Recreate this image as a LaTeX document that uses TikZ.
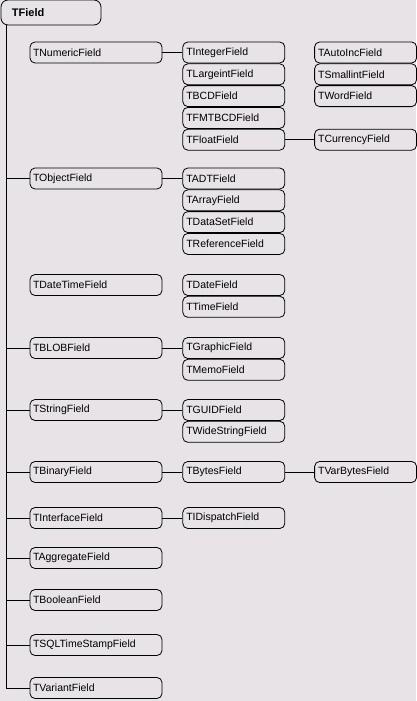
\documentclass[tikz,border=0pt]{standalone}
\usepackage{fontspec}
\setmainfont{Liberation Sans}
\usetikzlibrary{positioning}
\definecolor{formgray}{RGB}{231,227,231}
\tikzstyle{rootclass} = [rectangle, rounded corners=7pt, minimum width=100pt, minimum height=25pt, text width=78pt, inner xsep=11pt, inner ysep=0pt, align=left, draw=black, font=\fontsize{11}{13}\selectfont\bfseries]
\tikzstyle{fieldclass} = [rectangle, rounded corners=5pt, minimum width=132pt, minimum height=21pt, text width=126pt, inner xsep=3pt, inner ysep=0pt, align=left, draw=black, font=\fontsize{10.5}{12}\selectfont]
\tikzstyle{subclass} = [fieldclass, minimum width=102pt, text width=95pt, inner xsep=3.5pt]

\begin{document}
\begin{tikzpicture}[x=1pt, y=-1pt, node distance=0pt, line width=0.8pt]
 \fill[formgray] (0,0) rectangle (416,701);
 \useasboundingbox (0,0) rectangle (416,701);

 % root
 \node (tfield) [rootclass] at (51,12.5) {TField};
 \coordinate (trunk) at ([xshift=6pt]tfield.south west);

 % first level
 \node (numeric) [fieldclass] at (96,52.5) {TNumericField};
 \node (object) [fieldclass] at (96,178.5) {TObjectField};
 \node (datetime) [fieldclass] at (96,285) {TDateTimeField};
 \node (blob) [fieldclass] at (96,348) {TBLOBField};
 \node (string) [fieldclass] at (96,410) {TStringField};
 \node (binary) [fieldclass] at (96,472) {TBinaryField};
 \node (interface) [fieldclass] at (96,518) {TInterfaceField};
 \node (aggregate) [fieldclass] at (96,558) {TAggregateField};
 \node (boolean) [fieldclass] at (96,600) {TBooleanField};
 \node (sqlts) [fieldclass] at (96,645) {TSQLTimeStampField};
 \node (variant) [fieldclass] at (96,688) {TVariantField};

 % second level
 \node (integer) [subclass, right=20pt of numeric] {TIntegerField};
 \node (largeint) [subclass, below=of integer] {TLargeintField};
 \node (bcd) [subclass, below=of largeint] {TBCDField};
 \node (fmtbcd) [subclass, below=of bcd] {TFMTBCDField};
 \node (float) [subclass, below=of fmtbcd] {TFloatField};

 \node (adt) [subclass, right=20pt of object] {TADTField};
 \node (array) [subclass, below=of adt] {TArrayField};
 \node (dataset) [subclass, below=of array] {TDataSetField};
 \node (reference) [subclass, below=of dataset] {TReferenceField};

 \node (date) [subclass, right=20pt of datetime] {TDateField};
 \node (time) [subclass, below=of date] {TTimeField};

 \node (graphic) [subclass, right=20pt of blob] {TGraphicField};
 \node (memo) [subclass, below=of graphic] {TMemoField};

 \node (guid) [subclass, right=20pt of string] {TGUIDField};
 \node (widestring) [subclass, below=of guid] {TWideStringField};

 \node (bytes) [subclass, right=20pt of binary] {TBytesField};
 \node (idispatch) [subclass, right=20pt of interface] {TIDispatchField};

 % third level
 \node (autoinc) [subclass, right=29pt of integer] {TAutoIncField};
 \node (smallint) [subclass, below=of autoinc] {TSmallintField};
 \node (word) [subclass, below=of smallint] {TWordField};
 \node (currency) [subclass, right=29pt of float] {TCurrencyField};
 \node (varbytes) [subclass, right=29pt of bytes] {TVarBytesField};

 % connectors
 \draw (trunk) |- (variant.west);
 \foreach \n in {object,blob,string,binary,interface,aggregate,boolean,sqlts}
  \draw (\n.west) -- (\n.west -| trunk);
 \draw (numeric) -- (integer);
 \draw (object) -- (adt);
 \draw (blob) -- (graphic);
 \draw (string) -- (guid);
 \draw (binary) -- (bytes);
 \draw (interface) -- (idispatch);
 \draw (float) -- (currency);
 \draw (bytes) -- (varbytes);
\end{tikzpicture}
\end{document}
